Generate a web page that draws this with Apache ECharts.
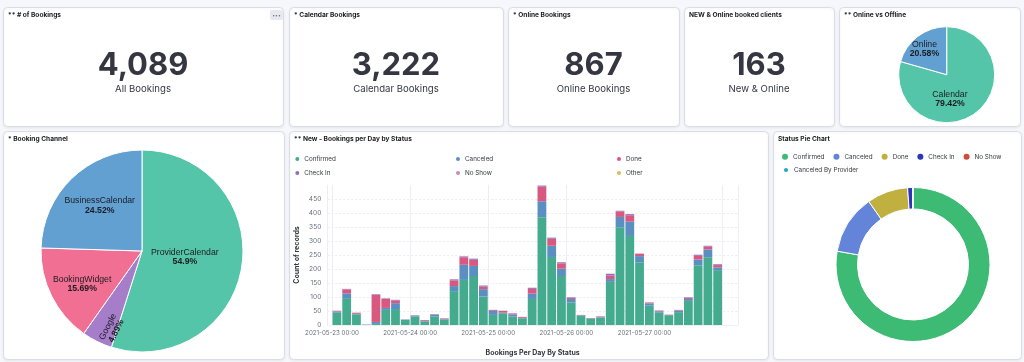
<!DOCTYPE html>
<html><head><meta charset="utf-8">
<script src="https://cdn.jsdelivr.net/npm/echarts@6/dist/echarts.min.js"></script>
<style>html,body{margin:0;padding:0;background:#f5f7fb}#c{width:1024px;height:362px}</style>
</head><body><div id="c"></div>
<script>
// ---------- data ----------
const metricTitles = ['** # of Bookings', '* Calendar Bookings', '* Online Bookings', 'NEW & Online booked clients'];
const metricValues = ['4,089', '3,222', '867', '163'];
const metricLabels = ['All Bookings', 'Calendar Bookings', 'Online Bookings', 'New & Online'];

const channelNames = ['ProviderCalendar', 'Google', 'BookingWidget', 'BusinessCalendar'];
const channelPercents = [54.9, 4.89, 15.69, 24.52];

const onlineNames = ['Calendar', 'Online'];
const onlinePercents = [79.42, 20.58];

const statusNames = ['Confirmed', 'Canceled', 'Done', 'Check In', 'No Show', 'Canceled By Provider'];
const statusCounts = [3180, 511, 352, 44, 1, 1];

const bucketStarts = [
  '2021-05-23 00:00','2021-05-23 03:00','2021-05-23 06:00','2021-05-23 09:00','2021-05-23 12:00','2021-05-23 15:00','2021-05-23 18:00','2021-05-23 21:00',
  '2021-05-24 00:00','2021-05-24 03:00','2021-05-24 06:00','2021-05-24 09:00','2021-05-24 12:00','2021-05-24 15:00','2021-05-24 18:00','2021-05-24 21:00',
  '2021-05-25 00:00','2021-05-25 03:00','2021-05-25 06:00','2021-05-25 09:00','2021-05-25 12:00','2021-05-25 15:00','2021-05-25 18:00','2021-05-25 21:00',
  '2021-05-26 00:00','2021-05-26 03:00','2021-05-26 06:00','2021-05-26 09:00','2021-05-26 12:00','2021-05-26 15:00','2021-05-26 18:00','2021-05-26 21:00',
  '2021-05-27 00:00','2021-05-27 03:00','2021-05-27 06:00','2021-05-27 09:00','2021-05-27 12:00','2021-05-27 15:00','2021-05-27 18:00','2021-05-27 21:00'
];
const barStatuses = ['Confirmed', 'Canceled', 'Done', 'Check In', 'No Show', 'Other'];
const confirmedCounts = [44,96,38,1,4,54,57,18, 30,13,31,20,121,161,175,102, 36,42,30,24,93,385,243,175, 80,32,23,27,154,349,318,224, 69,44,35,46,86,213,242,196];
const canceledCounts  = [4,17,2,1,7,7,21,1, 3,1,6,1,18,54,36,26, 14,2,8,1,19,57,40,26, 13,2,0,1,10,37,51,22, 8,5,0,5,7,21,28,10];
const doneCounts      = [2,14,3,0,97,32,10,0, 1,3,1,2,20,27,22,9, 3,6,3,3,17,52,25,19, 4,1,1,2,13,19,23,8, 3,2,1,2,4,13,10,8];
const checkInCounts   = [1,2,1,0,2,2,2,1, 1,1,1,1,4,3,4,4, 1,1,1,1,4,4,4,4, 2,1,1,1,6,3,4,1, 1,1,1,1,2,4,3,3];
const noShowCounts    = [0,0,0,0,0,0,0,0, 0,0,0,0,0,0,0,0, 0,0,0,0,0,0,0,0, 0,0,0,0,0,0,0,0, 0,0,0,0,0,0,0,0];
const otherCounts     = [0,0,0,0,0,0,0,0, 0,0,0,0,0,0,0,0, 0,0,0,0,0,0,0,0, 0,0,0,0,0,0,0,0, 0,0,0,0,0,0,0,0];
const axisStart = '2021-05-23 00:00';
const axisEnd = '2021-05-28 03:18';
const lastTickLabel = '2021-05-27 00:00';
const bucketHours = 3;
const yTicks = [0, 50, 100, 150, 200, 250, 300, 350, 400, 450];

// ---------- styles ----------
const UI = 'Inter, "Noto Sans", sans-serif';
const PIE_FONT = '"Liberation Sans", Arial, sans-serif';
const barColors = ['#45ab8f', '#5b8fc2', '#d9587f', '#9170B8', '#CA8EAE', '#D6BF57'];
const channelColors = ['#54c5a8', '#a57dc9', '#f26f94', '#62a0d2'];
const onlineColors = ['#54c5a8', '#62a0d2'];
const statusColors = ['#3dbb74', '#6384d8', '#bfb03f', '#2a38b8', '#cf4b3a', '#1ea6c0'];
// label nudges (screen px) from the library's inside-label spot, per slice
const channelLabelShift = [[-10, -2], [-6, 30], [-12, 9], [-5, -7]];
const onlineLabelShift = [[-13, 3], [-6, -4]];

function toTime(s) {
  const [d, t] = s.split(' ');
  const [y, m, dd] = d.split('-').map(Number);
  const [h, mi] = t.split(':').map(Number);
  return new Date(y, m - 1, dd, h, mi).getTime();
}
function pad(n) { return (n < 10 ? '0' : '') + n; }
function fmtTime(v) {
  const d = new Date(v);
  return d.getFullYear() + '-' + pad(d.getMonth() + 1) + '-' + pad(d.getDate()) + ' ' + pad(d.getHours()) + ':' + pad(d.getMinutes());
}
const half = bucketHours * 3600000 / 2;
const barSeriesValues = [confirmedCounts, canceledCounts, doneCounts, checkInCounts, noShowCounts, otherCounts];

const panels = [
  [3, 7, 280, 119], [289, 7, 214, 119], [508, 7, 171, 119], [684, 7, 150, 119], [839, 7, 181, 119],
  [3, 131, 281, 228], [289, 131, 479, 228], [773, 131, 248, 228]
];
const panelTitles = [...metricTitles, '** Online vs Offline', '* Booking Channel', '** New - Bookings per Day by Status', 'Status Pie Chart'];

const graphics = [];
panels.forEach((p, i) => {
  graphics.push({ type: 'rect', z: -10, shape: { x: p[0] + 0.5, y: p[1] + 0.5, width: p[2], height: p[3], r: 4 },
    style: { fill: '#fff', stroke: '#d8dde8', lineWidth: 1, shadowBlur: 3, shadowOffsetY: 1, shadowColor: 'rgba(0,0,0,0.06)' } });
  graphics.push({ type: 'text', z: 10, x: p[0] + 5, y: p[1] + 7.6,
    style: { text: panelTitles[i], fill: '#1a1c21', fontSize: 6.6, fontWeight: 'bold', fontFamily: UI, align: 'left', verticalAlign: 'middle' } });
});
metricValues.forEach((v, i) => {
  const p = panels[i];
  const cx = p[0] + p[2] / 2;
  graphics.push({ type: 'text', z: 10, x: cx, y: 66,
    style: { text: v, fill: '#343741', fontSize: 31, fontWeight: 'bold', fontFamily: UI, align: 'center', verticalAlign: 'middle' } });
  graphics.push({ type: 'text', z: 10, x: cx, y: 89.5,
    style: { text: metricLabels[i], fill: '#343741', fontSize: 9.6, fontFamily: UI, align: 'center', verticalAlign: 'middle' } });
});
// panel options button
graphics.push({ type: 'rect', z: 10, shape: { x: 270, y: 10, width: 13, height: 10, r: 2 }, style: { fill: '#e6e9ef' } });
graphics.push({ type: 'text', z: 11, x: 276.5, y: 15, style: { text: '•••', fill: '#69707d', fontSize: 5, fontFamily: UI, align: 'center', verticalAlign: 'middle' } });

const pieLabel = {
  show: true, position: 'inside', formatter: '{n|{b}}\n{p|{d}%}', overflow: 'none',
  rich: {
    n: { fontSize: 8.7, color: '#1a1c21', fontFamily: PIE_FONT, lineHeight: 9.5 },
    p: { fontSize: 8.7, color: '#1a1c21', fontFamily: PIE_FONT, fontWeight: 'bold', lineHeight: 9.5 }
  }
};

// radial text angle of a slice (screen degrees, counter-clockwise) from its share of the pie
function radialRotate(values, idx) {
  const total = values.reduce((a, b) => a + b, 0);
  let before = 0;
  for (let i = 0; i < idx; i++) before += values[i];
  const midCW = (before + values[idx] / 2) / total * 360;
  let a = 90 - midCW;
  while (a <= -90) a += 180;
  while (a > 90) a -= 180;
  return a;
}
const channelRotate = channelNames.map((n, i) => (n === 'Google' ? radialRotate(channelPercents, i) : 0));
// convert a screen shift into the label's own (rotated) frame
function localShift(shift, deg) {
  const t = deg * Math.PI / 180, c = Math.cos(t), s = Math.sin(t);
  return { dx: shift[0] * c - shift[1] * s, dy: shift[0] * s + shift[1] * c };
}

const legendText = { fontSize: 6.3, color: '#343741', fontFamily: UI, lineHeight: 9 };
function barLegend(names, left) {
  return {
    orient: 'vertical', left: left, top: 154.5, padding: 0, itemGap: 5, itemWidth: 4, itemHeight: 4, icon: 'circle',
    selectedMode: false, textStyle: legendText,
    data: names.map(n => ({ name: n, itemStyle: { color: barColors[barStatuses.indexOf(n)] } }))
  };
}
function statusLegend(names, top) {
  return {
    orient: 'horizontal', left: 782, top: top, padding: 0, itemGap: 9, itemWidth: 6, itemHeight: 6, icon: 'circle',
    selectedMode: false, textStyle: legendText,
    data: names.map(n => ({ name: n, itemStyle: { color: statusColors[statusNames.indexOf(n)] } }))
  };
}
const lastLabelTime = toTime(lastTickLabel);
const dayLineColors = [0, 1, 2, 3, 4, 5].map(i => i < 5 ? '#eceef3' : 'rgba(0,0,0,0)');

const option = {
  animation: false,
  backgroundColor: '#f5f7fb',
  graphic: { elements: graphics },
  legend: [
    barLegend(['Confirmed', 'Check In'], 295.3),
    barLegend(['Canceled', 'No Show'], 456),
    barLegend(['Done', 'Other'], 617),
    statusLegend(statusNames.slice(0, 5), 152.2),
    statusLegend(statusNames.slice(5), 165.5)
  ],
  grid: { left: 327.3, right: 286, top: 185, bottom: 37 },
  xAxis: {
    type: 'time', min: toTime(axisStart), max: toTime(axisEnd),
    minInterval: 86400000, maxInterval: 86400000,
    name: 'Bookings Per Day By Status', nameLocation: 'middle', nameGap: 24,
    nameTextStyle: { fontSize: 7, fontWeight: 'bold', color: '#343741', fontFamily: UI },
    axisLine: { show: true, lineStyle: { color: '#eef0f4' } },
    axisTick: { show: false },
    axisLabel: { formatter: v => (v > lastLabelTime ? '' : fmtTime(v)), fontSize: 6.2, color: '#69707d', fontFamily: UI, margin: 5, hideOverlap: false },
    splitLine: { show: true, lineStyle: { color: dayLineColors, width: 1 } }
  },
  yAxis: {
    type: 'value', min: yTicks[0], max: 500, interval: yTicks[1] - yTicks[0],
    name: 'Count of records', nameLocation: 'middle', nameGap: 27, nameRotate: 90,
    nameTextStyle: { fontSize: 7, fontWeight: 'bold', color: '#343741', fontFamily: UI },
    axisLine: { show: false }, axisTick: { show: false },
    axisLabel: { showMaxLabel: false, fontSize: 6.6, color: '#69707d', fontFamily: UI, margin: 6 },
    splitLine: { show: true, showMaxLine: false, lineStyle: { color: '#e9ebf0', type: [2, 2] } }
  },
  series: [
    ...barStatuses.map((name, k) => ({
      name: name, type: 'bar', stack: 'total', barWidth: '90%',
      itemStyle: { color: barColors[k] },
      data: bucketStarts.map((t, i) => [toTime(t) + half, barSeriesValues[k][i]])
    })),
    {
      name: 'Booking Channel', type: 'pie', center: [142, 251], radius: 101, startAngle: 90, clockwise: true,
      avoidLabelOverlap: false, minShowLabelAngle: 0,
      labelLayout: p => Object.assign(localShift(channelLabelShift[p.dataIndex], channelRotate[p.dataIndex]), { hideOverlap: false }),
      itemStyle: { borderColor: '#fff', borderWidth: 1 },
      label: pieLabel, labelLine: { show: false },
      data: channelNames.map((n, i) => ({
        name: n, value: channelPercents[i], itemStyle: { color: channelColors[i] },
        label: channelRotate[i] ? { show: true, rotate: channelRotate[i] } : undefined
      }))
    },
    {
      name: 'Online vs Offline', type: 'pie', center: [946.7, 74.7], radius: 48, startAngle: 90,
      avoidLabelOverlap: false,
      labelLayout: p => ({ dx: onlineLabelShift[p.dataIndex][0], dy: onlineLabelShift[p.dataIndex][1] }),
      itemStyle: { borderColor: '#fff', borderWidth: 1 },
      label: pieLabel, labelLine: { show: false },
      data: onlineNames.map((n, i) => ({ name: n, value: onlinePercents[i], itemStyle: { color: onlineColors[i] } }))
    },
    {
      name: 'Status Pie Chart', type: 'pie', center: [913, 264.5], radius: [55.5, 77], startAngle: 90,
      itemStyle: { borderColor: '#fff', borderWidth: 1 },
      label: { show: false }, labelLine: { show: false },
      data: statusNames.map((n, i) => ({ name: n, value: statusCounts[i], itemStyle: { color: statusColors[i] } }))
    }
  ]
};
const chart = echarts.init(document.getElementById('c'));
chart.setOption(option);
</script>
</body></html>
